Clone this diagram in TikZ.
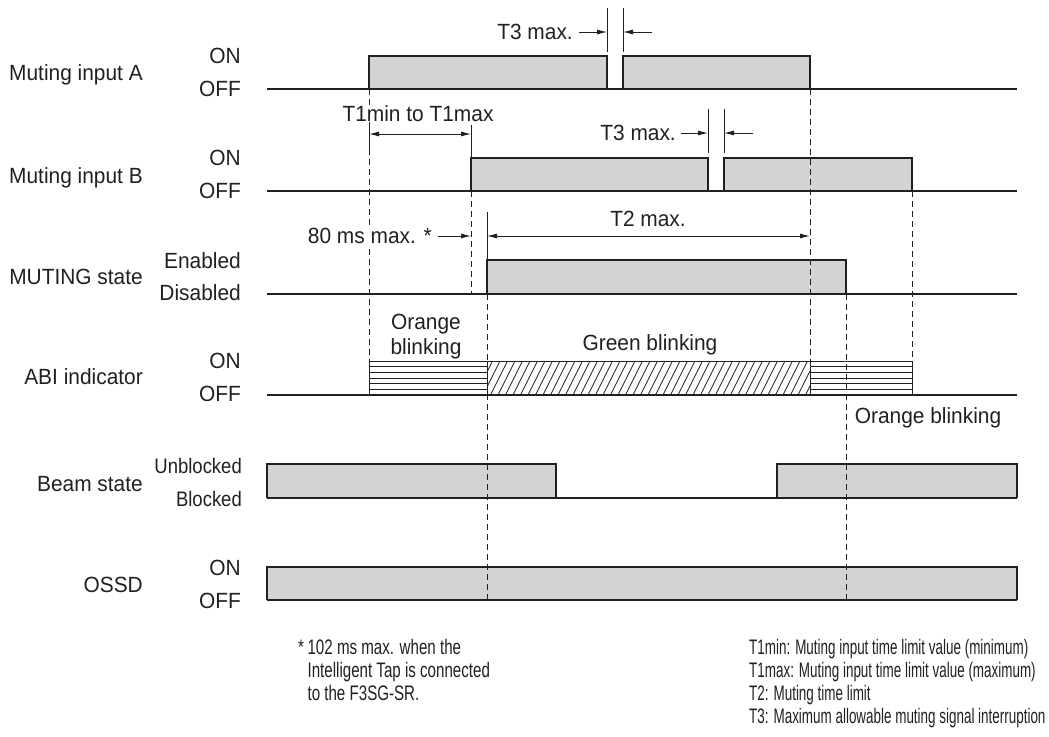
\documentclass[tikz,border=0pt]{standalone}
\usepackage{fontspec}
\setmainfont{Liberation Sans}
\newfontfamily\lblfont[FakeStretch=0.95]{Liberation Sans}
\newfontfamily\smlfont[FakeStretch=0.88]{Liberation Sans}
\newfontfamily\notefontL[FakeStretch=0.72]{Liberation Sans}
\newfontfamily\notefontR[FakeStretch=0.64]{Liberation Sans}
\usetikzlibrary{arrows.meta}
\definecolor{boxgray}{HTML}{D1D3D4}
\definecolor{ink}{HTML}{231F20}
\begin{document}
\begin{tikzpicture}[x=1pt,y=-1pt,
  lbl/.style={font=\lblfont\fontsize{22}{25}\selectfont, inner sep=0pt, text=ink},
  sml/.style={font=\smlfont\fontsize{21}{24}\selectfont, inner sep=0pt, text=ink},
  noteL/.style={font=\notefontL\fontsize{21}{23}\selectfont, inner sep=0pt, text=ink, align=left},
  noteR/.style={font=\notefontR\fontsize{21}{23}\selectfont, inner sep=0pt, text=ink, align=left},
  sig/.style={draw=ink, line width=1.1pt, fill=boxgray},
  baseline/.style={draw=ink, line width=2pt},
  dsh/.style={draw=ink, line width=0.9pt, dash pattern=on 6pt off 4pt},
  tickline/.style={draw=ink, line width=0.9pt},
  dimone/.style={draw=ink, line width=0.9pt, -{Latex[length=10pt,width=5pt]}},
  dimtwo/.style={draw=ink, line width=0.9pt, {Latex[length=10pt,width=5pt]}-{Latex[length=10pt,width=5pt]}},
  hline/.style={draw=ink, line width=0.8pt},
]
\useasboundingbox (0,0) rectangle (1049,736);

% ---------- Row A ----------
\path[sig] (369,89) -- (369,56) -- (607,56) -- (607,89);
\path[sig] (623,89) -- (623,56) -- (810,56) -- (810,89);
\draw[baseline] (267,89) -- (1017,89);
% ---------- Row B ----------
\path[sig] (471,191) -- (471,158) -- (708,158) -- (708,191);
\path[sig] (724,191) -- (724,158) -- (912,158) -- (912,191);
\draw[baseline] (267,191) -- (1017,191);
% ---------- MUTING state ----------
\path[sig] (487,294) -- (487,260) -- (846,260) -- (846,294);
\draw[baseline] (267,294) -- (1017,294);
% ---------- ABI indicator ----------
\draw[hline] (369,361) rectangle (487,395);
\foreach \yy in {366.7,372.3,378,383.7,389.3} {\draw[hline] (369,\yy) -- (487,\yy);}
\draw[hline] (810,361) rectangle (912,395);
\foreach \yy in {366.7,372.3,378,383.7,389.3} {\draw[hline] (810,\yy) -- (912,\yy);}
\begin{scope}
  \clip (487,361) rectangle (810,395);
  \foreach \i in {0,...,46} {\draw[line width=0.7pt, ink] (468+\i*7.5,395) -- ++(17,-34);}
\end{scope}
\draw[hline, line width=1pt] (487,361) rectangle (810,395);
\draw[baseline] (267,395) -- (1017,395);
% ---------- Beam state ----------
\path[sig] (267,498) -- (267,464) -- (556,464) -- (556,498);
\path[sig] (1017,498) -- (1017,464) -- (777,464) -- (777,498);
\draw[baseline] (267,498) -- (1017,498);
% ---------- OSSD ----------
\path[sig] (267,600) -- (267,567) -- (1017,567) -- (1017,600);
\draw[baseline] (267,600) -- (1017,600);

% ---------- timing references ----------
\draw[dsh] (369,89) -- (369,361);
\draw[dsh] (471,191) -- (471,294);
\draw[dsh] (810,89) -- (810,361);
\draw[dsh] (912,191) -- (912,361);
\draw[dsh] (487,294) -- (487,600);
\draw[dsh] (846,294) -- (846,600);

% ---------- dimension marks ----------
\coordinate (a3l) at (607,32); \coordinate (a3r) at (623,32);
\coordinate (a3lt) at (579,32); \coordinate (a3rt) at (652,32);
\draw[tickline] (607,8) -- (607,52);
\draw[tickline] (623,8) -- (623,52);
\draw[dimone] (a3lt) -- (a3l);
\draw[dimone] (a3rt) -- (a3r);
\node[lbl, anchor=base east] (t3a) at (573,39.5) {T3 max.};

\coordinate (b3l) at (708,133); \coordinate (b3r) at (724,133);
\coordinate (b3lt) at (681,133); \coordinate (b3rt) at (753,133);
\draw[tickline] (708,109) -- (708,153);
\draw[tickline] (724,109) -- (724,153);
\draw[dimone] (b3lt) -- (b3l);
\draw[dimone] (b3rt) -- (b3r);
\node[lbl, anchor=base east] (t3b) at (676,140.5) {T3 max.};

\coordinate (t1l) at (369,134); \coordinate (t1r) at (471,134);
\draw[tickline] (369,125) -- (369,155);
\draw[tickline] (471,125) -- (471,158);
\draw[dimtwo] (t1l) -- (t1r);
\node[lbl, anchor=base, fill=white, inner xsep=1pt] (t1) at (418,121.5) {T1min to T1max};

\coordinate (m80) at (471,236); \coordinate (m80t) at (438,236);
\draw[dimone] (m80t) -- (m80);
\node[lbl, anchor=base east, fill=white, inner ysep=3pt] (t80) at (432,243.5) {80 ms max. *};

\coordinate (t2l) at (487,236); \coordinate (t2r) at (810,236);
\draw[tickline] (487,212) -- (487,260);
\draw[dimtwo] (t2l) -- (t2r);
\node[lbl, anchor=base] (t2) at (648,226.5) {T2 max.};

% ---------- ABI texts ----------
\node[lbl, anchor=base] (or1) at (426,329.5) {Orange};
\node[lbl, anchor=base] (or2) at (426,354.5) {blinking};
\node[lbl, anchor=base] (gr) at (650,350.5) {Green blinking};
\node[lbl, anchor=base] (or3) at (928,423.5) {Orange blinking};

% ---------- row labels ----------
\node[lbl, anchor=base east] (nA) at (143,80.5) {Muting input A};
\node[lbl, anchor=base east] (onA) at (241,63.5) {ON};
\node[lbl, anchor=base east] (offA) at (241,96) {OFF};

\node[lbl, anchor=base east] (nB) at (143,183.5) {Muting input B};
\node[lbl, anchor=base east] (onB) at (241,165.5) {ON};
\node[lbl, anchor=base east] (offB) at (241,198.5) {OFF};

\node[lbl, anchor=base east] (nM) at (143,284.5) {MUTING state};
\node[lbl, anchor=base east] (enM) at (241,268.5) {Enabled};
\node[lbl, anchor=base east] (diM) at (241,300.5) {Disabled};

\node[lbl, anchor=base east] (nI) at (143,384.5) {ABI indicator};
\node[lbl, anchor=base east] (onI) at (241,368.5) {ON};
\node[lbl, anchor=base east] (offI) at (241,401.5) {OFF};

\node[lbl, anchor=base east] (nS) at (143,491.5) {Beam state};
\node[sml, anchor=base east] (unS) at (242,473.5) {Unblocked};
\node[sml, anchor=base east] (blS) at (242,506.5) {Blocked};

\node[lbl, anchor=base east] (nO) at (143,592.5) {OSSD};
\node[lbl, anchor=base east] (onO) at (241,575.5) {ON};
\node[lbl, anchor=base east] (offO) at (241,608.5) {OFF};

% ---------- notes ----------
\node[noteL, anchor=north west] (noteL) at (298,639.5)
  {*\,102 ms max. when the\\\hphantom{*\,}Intelligent Tap is connected\\\hphantom{*\,}to the F3SG-SR.};
\node[noteR, anchor=north west] (noteR) at (749,639.5)
  {T1min: Muting input time limit value (minimum)\\T1max: Muting input time limit value (maximum)\\T2: Muting time limit\\T3: Maximum allowable muting signal interruption};
\end{tikzpicture}
\end{document}
